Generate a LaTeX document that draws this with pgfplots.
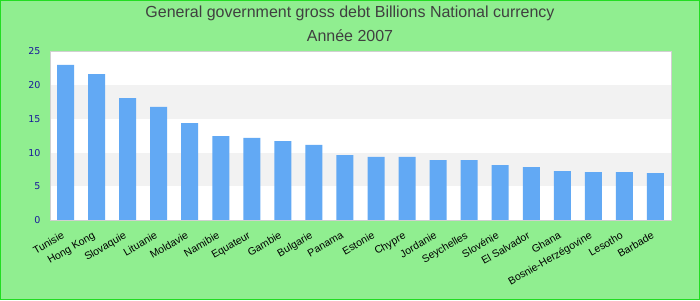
\documentclass[border=0pt]{standalone}
\usepackage{fontspec}
\setmainfont{Liberation Sans}
\newfontfamily\dejavu{DejaVu Sans}
\usepackage{pgfplots}
\pgfplotsset{compat=1.18}
\definecolor{bgreen}{HTML}{90EE90}
\definecolor{bordergreen}{HTML}{22DD22}
\definecolor{barblue}{HTML}{62A9F4}
\definecolor{band}{HTML}{F2F2F2}
\definecolor{framegray}{HTML}{D0D0D0}
\definecolor{ticknavy}{HTML}{1A1A9A}
\definecolor{titlegray}{HTML}{404040}
\begin{document}
\begin{tikzpicture}
\useasboundingbox (0,0) rectangle (700pt,300pt);
\fill[bgreen] (0,0) rectangle (700pt,300pt);
\draw[bordergreen,line width=1.2pt] (0.6pt,0.6pt) rectangle (699.4pt,299.4pt);
\node[font=\fontsize{16}{18}\selectfont,text=titlegray] at (350pt,287pt) {General government gross debt Billions National currency};
\node[font=\fontsize{16}{18}\selectfont,text=titlegray] at (350pt,264pt) {Année 2007};
\begin{axis}[
  at={(50pt,80pt)}, anchor=south west,
  scale only axis, width=621pt, height=168.5pt,
  xmin=-0.5, xmax=19.5, ymin=0, ymax=25,
  axis background/.style={fill=white},
  axis line style={framegray, line width=1pt},
  axis on top,
  major tick length=0pt,
  ytick={0,5,10,15,20,25},
  yticklabel style={font=\dejavu\fontsize{9.5}{11}\selectfont, text=ticknavy, xshift=-6pt},
  /pgf/number format/assume math mode=true,
  xtick={0,...,19},
  xticklabels={Tunisie,Hong Kong,Slovaquie,Lituanie,Moldavie,Namibie,Equateur,Gambie,Bulgarie,Panama,Estonie,Chypre,Jordanie,Seychelles,Slovénie,El Salvador,Ghana,Bosnie-Herzégovine,Lesotho,Barbade},
  xticklabel style={font=\fontsize{10.5}{12}\selectfont, rotate=30, anchor=north east, xshift=-6pt, yshift=-4pt},
]
\addplot[fill=band, draw=none, forget plot] coordinates {(-0.5,5) (19.5,5) (19.5,10) (-0.5,10)} -- cycle;
\addplot[fill=band, draw=none, forget plot] coordinates {(-0.5,15) (19.5,15) (19.5,20) (-0.5,20)} -- cycle;
\addplot[ybar, bar width=17pt, fill=barblue, draw=none] coordinates {
(0,23.0) (1,21.66) (2,18.1) (3,16.77) (4,14.39) (5,12.46) (6,12.17) (7,11.72) (8,11.13) (9,9.64)
(10,9.35) (11,9.35) (12,8.9) (13,8.9) (14,8.16) (15,7.86) (16,7.27) (17,7.12) (18,7.12) (19,6.97)
};
\end{axis}
\end{tikzpicture}
\end{document}
